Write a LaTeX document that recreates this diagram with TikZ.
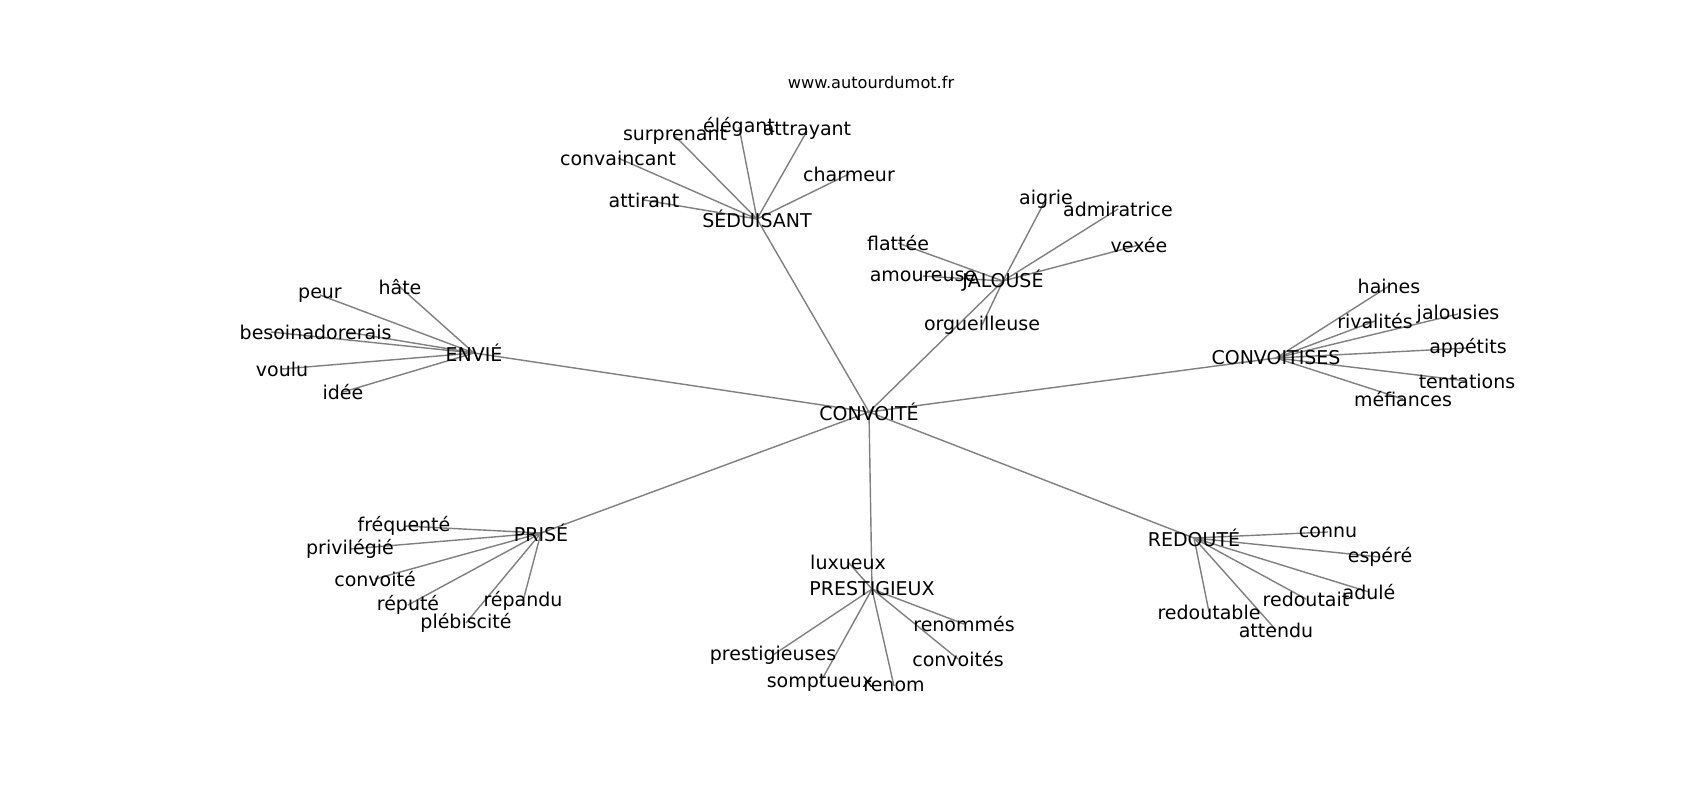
\documentclass[tikz,border=0pt]{standalone}
\usepackage{fontspec}
\setmainfont{DejaVu Sans}
\usetikzlibrary{backgrounds}

\begin{document}
\begin{tikzpicture}[x=0.01cm, y=-0.01cm,
  word/.style={font=\fontsize{5.4}{6}\selectfont, inner sep=0pt},
  leaf/.style={word, yshift=-0.3mm},
  link/.style={draw=black!50, line width=0.4pt}]
\useasboundingbox (0,0) rectangle (1700,800);
\node[font=\fontsize{4.6}{5}\selectfont, inner sep=0pt] (site) at (871,82) {www.autourdumot.fr};

\node[word] (convoite) at (869,412) {CONVOITÉ};
\node[word] (seduisant) at (757,219) {SÉDUISANT};
\node[word] (jalouse) at (1003,281) {JALOUSÉ};
\node[word] (envie) at (474,353) {ENVIÉ};
\node[word] (convoitises) at (1276,358) {CONVOITISES};
\node[word] (prise) at (541,533) {PRISÉ};
\node[word] (prestigieux) at (872,589) {PRESTIGIEUX};
\node[word] (redoute) at (1194,538) {REDOUTÉ};

\node[leaf] (surprenant) at (675,133) {surprenant};
\node[leaf] (elegant) at (739,124) {élégant};
\node[leaf] (attrayant) at (807,128) {attrayant};
\node[leaf] (convaincant) at (618,155) {convaincant};
\node[leaf] (charmeur) at (849,171) {charmeur};
\node[leaf] (attirant) at (644,197) {attirant};

\node[leaf] (aigrie) at (1046,196) {aigrie};
\node[leaf] (admiratrice) at (1118,206) {admiratrice};
\node[leaf] (flattee) at (898,240) {flattée};
\node[leaf] (vexee) at (1139,242) {vexée};
\node[leaf] (amoureuse) at (923,273) {amoureuse};
\node[leaf] (orgueilleuse) at (982,322) {orgueilleuse};

\node[leaf] (peur) at (320,292) {peur};
\node[leaf] (hate) at (400,284) {hâte};
\node[leaf] (besoin) at (271,329) {besoin};
\node[leaf] (adorerais) at (347,329) {adorerais};
\node[leaf] (voulu) at (282,366) {voulu};
\node[leaf] (idee) at (343,389) {idée};

\node[leaf] (haines) at (1389,283) {haines};
\node[leaf] (rivalites) at (1375,318) {rivalités};
\node[leaf] (jalousies) at (1458,311) {jalousies};
\node[leaf] (appetits) at (1468,345) {appétits};
\node[leaf] (tentations) at (1467,378) {tentations};
\node[leaf] (mefiances) at (1403,396) {méfiances};

\node[leaf] (frequente) at (404,523) {fréquenté};
\node[leaf] (privilegie) at (350,546) {privilégié};
\node[leaf] (convoiteb) at (375,576) {convoité};
\node[leaf] (repute) at (408,602) {réputé};
\node[leaf] (repandu) at (523,598) {répandu};
\node[leaf] (plebiscite) at (466,620) {plébiscité};

\node[leaf] (luxueux) at (848,559) {luxueux};
\node[leaf] (renommes) at (964,621) {renommés};
\node[leaf] (prestigieuses) at (773,652) {prestigieuses};
\node[leaf] (convoites) at (958,656) {convoités};
\node[leaf] (somptueux) at (820,680) {somptueux};
\node[leaf] (renom) at (894,683) {renom};

\node[leaf] (connu) at (1328,529) {connu};
\node[leaf] (espere) at (1380,554) {espéré};
\node[leaf] (adule) at (1369,589) {adulé};
\node[leaf] (redoutait) at (1306,596) {redoutait};
\node[leaf] (redoutable) at (1209,609) {redoutable};
\node[leaf] (attendu) at (1276,627) {attendu};

\begin{scope}[on background layer]
\fill[white] (0,0) rectangle (1700,800);
\foreach \a in {seduisant,jalouse,envie,convoitises,prise,prestigieux,redoute}
  \draw[link] (convoite.center) -- (\a.center);
\foreach \a/\b in {seduisant/surprenant, seduisant/elegant, seduisant/attrayant,
  seduisant/convaincant, seduisant/charmeur, seduisant/attirant,
  jalouse/aigrie, jalouse/admiratrice, jalouse/flattee, jalouse/vexee,
  jalouse/amoureuse, jalouse/orgueilleuse,
  envie/peur, envie/hate, envie/besoin, envie/adorerais, envie/voulu, envie/idee,
  convoitises/haines, convoitises/rivalites, convoitises/jalousies,
  convoitises/appetits, convoitises/tentations, convoitises/mefiances,
  prise/frequente, prise/privilegie, prise/convoiteb, prise/repute,
  prise/repandu, prise/plebiscite,
  prestigieux/luxueux, prestigieux/renommes, prestigieux/prestigieuses,
  prestigieux/convoites, prestigieux/somptueux, prestigieux/renom,
  redoute/connu, redoute/espere, redoute/adule, redoute/redoutait,
  redoute/redoutable, redoute/attendu}
  \draw[link] (\a.center) -- (\b.center);
\end{scope}
\end{tikzpicture}
\end{document}
